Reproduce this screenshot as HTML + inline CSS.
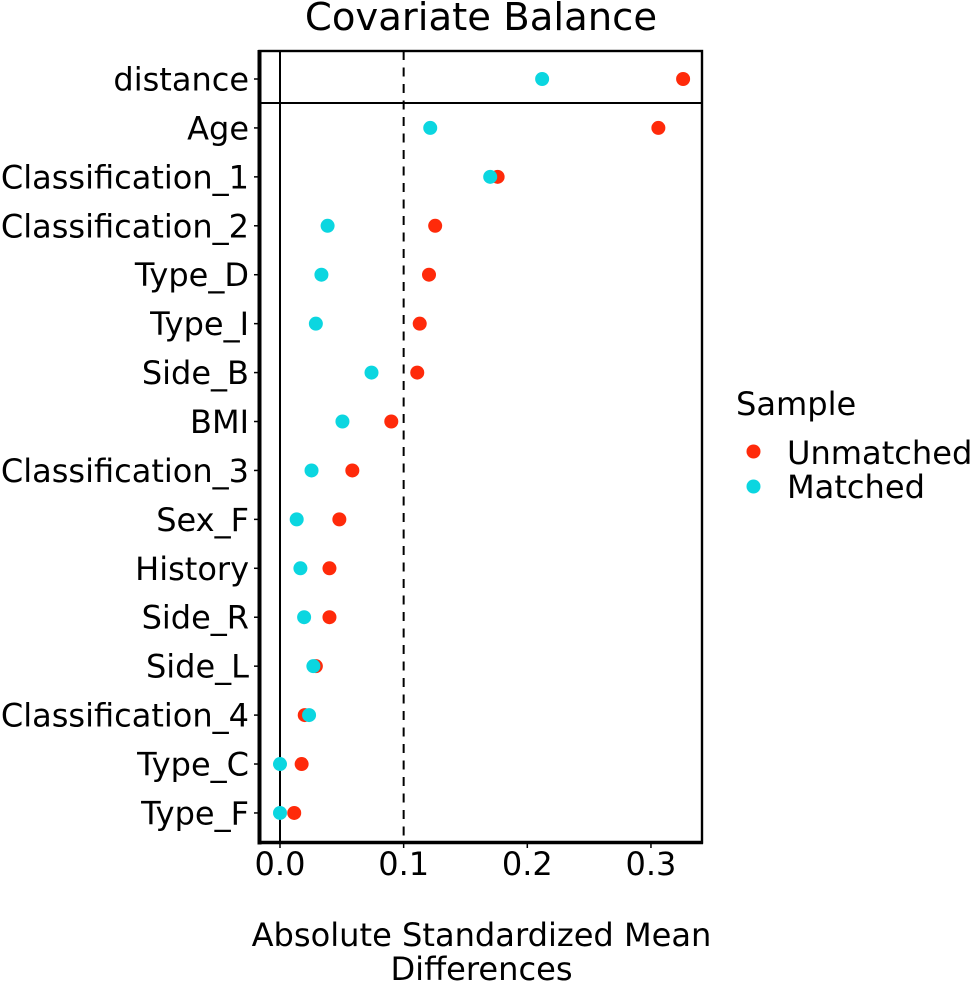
<!DOCTYPE html>
<html>
<head>
<meta charset="utf-8">
<title>Covariate Balance</title>
<style>
html,body{margin:0;padding:0;background:#fff;}
svg{display:block;}
text{font-family:"DejaVu Sans",sans-serif;fill:#000;}
</style>
</head>
<body>
<svg id="chart" xmlns="http://www.w3.org/2000/svg" width="972" height="984" viewBox="0 0 972 984">
  <text x="481" y="30" font-size="38.6" text-anchor="middle">Covariate Balance</text>
  <g id="plot"></g>
  <text x="481.5" y="946" font-size="32.1" text-anchor="middle">Absolute Standardized Mean</text>
  <text x="481.5" y="980" font-size="32.1" text-anchor="middle">Differences</text>
  <g>
    <text x="736" y="415" font-size="32.1">Sample</text>
    <circle cx="753.5" cy="451.5" r="7" fill="#ff2a0a"></circle>
    <text x="787" y="464" font-size="32.1">Unmatched</text>
    <circle cx="753.5" cy="486.5" r="7" fill="#0bd6e0"></circle>
    <text x="787" y="498" font-size="32.1">Matched</text>
  </g>
</svg>
<script>
const categories = ["distance","Age","Classification_1","Classification_2","Type_D","Type_I","Side_B","BMI","Classification_3","Sex_F","History","Side_R","Side_L","Classification_4","Type_C","Type_F"];
const unmatchedValues = [0.326,0.306,0.176,0.1255,0.1205,0.113,0.111,0.090,0.0585,0.048,0.040,0.040,0.029,0.020,0.0175,0.0115];
const matchedValues = [0.212,0.1215,0.170,0.0385,0.0335,0.029,0.074,0.0505,0.0255,0.0135,0.0165,0.0195,0.027,0.0235,0.000,0.000];
const xTicks = [0.0,0.1,0.2,0.3];
const thresholdValue = 0.1;
const zeroValue = 0;

const NS = 'http://www.w3.org/2000/svg';
const plot = document.getElementById('plot');
const LEFT = 259.5, RIGHT = 702, TOP = 51, BOTTOM = 842.5;
const xScale = function (v) { return 280 + v * 1236.5; };
const yScale = function (i) { return 79 + i * 48.93; };

function make(tag, props) {
  const el = document.createElementNS(NS, tag);
  for (const k in props) el.setAttribute(k, props[k]);
  plot.appendChild(el);
  return el;
}

const zeroLine = make('line', {x1: xScale(zeroValue), x2: xScale(zeroValue), y1: TOP, y2: BOTTOM, stroke: '#000', 'stroke-width': 2});



const threshold = make('line', {x1: xScale(thresholdValue), x2: xScale(thresholdValue), y1: TOP, y2: BOTTOM, stroke: '#000', 'stroke-width': 2, 'stroke-dasharray': '9 7.5'});



const separator = make('line', {x1: LEFT, x2: RIGHT, y1: (yScale(0) + yScale(1)) / 2 - 0.5, y2: (yScale(0) + yScale(1)) / 2 - 0.5, stroke: '#000', 'stroke-width': 2});



categories.forEach(function (name, i) {
  const y = yScale(i);
  const tick = make('line', {x1: 254, x2: 259, y1: y, y2: y, stroke: '#000', 'stroke-width': 1.5});
  
  
  const label = make('text', {x: 249, y: y + 11.5, 'font-size': 32, 'text-anchor': 'end'});
  label.textContent = name;
  
  
});

xTicks.forEach(function (v) {
  const x = xScale(v);
  const tick = make('line', {x1: x, x2: x, y1: BOTTOM, y2: 848, stroke: '#000', 'stroke-width': 1.5});
  
  
  const label = make('text', {x: x, y: 875, 'font-size': 32, 'text-anchor': 'middle'});
  label.textContent = v.toFixed(1);
  
  
});

const panel = make('rect', {x: LEFT, y: TOP, width: RIGHT - LEFT, height: BOTTOM - TOP, fill: 'none', stroke: '#000', 'stroke-width': 2.4});



const yAxis = make('line', {x1: LEFT, x2: LEFT, y1: TOP - 1, y2: BOTTOM + 2, stroke: '#000', 'stroke-width': 4});



const xAxis = make('line', {x1: LEFT - 2, x2: RIGHT + 1, y1: BOTTOM, y2: BOTTOM, stroke: '#000', 'stroke-width': 3.4});



unmatchedValues.forEach(function (v, i) {
  const dot = make('circle', {cx: xScale(v), cy: yScale(i), r: 7, fill: '#ff2a0a'});
  
  
});

matchedValues.forEach(function (v, i) {
  const dot = make('circle', {cx: xScale(v), cy: yScale(i), r: 7, fill: '#0bd6e0'});
  
  
});
</script>
</body>
</html>
